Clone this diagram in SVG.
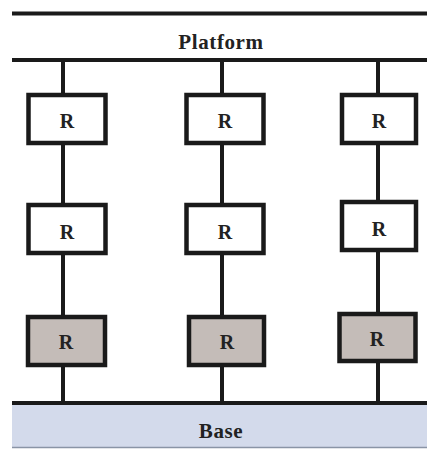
<svg xmlns="http://www.w3.org/2000/svg" width="427" height="449" viewBox="0 0 427 449">
<style>
.ln{stroke:#1a1a1a;stroke-width:4;fill:none}
.bx{stroke:#1a1a1a;stroke-width:4.5;fill:#ffffff}
.g{fill:#c4bcb8}
.t{font-family:"Liberation Serif",serif;font-weight:bold;fill:#222;text-anchor:middle;dominant-baseline:central}
.r{font-size:20px}
.lbl{font-size:21px;letter-spacing:0.6px}
</style>
<rect width="427" height="449" fill="#ffffff"/>
<g id="base">
<rect x="12" y="404" width="415" height="43" fill="#d3daeb"/>
<line x1="12" y1="447.5" x2="427" y2="447.5" stroke="#8a94a6" stroke-width="1.5"/>
<text class="t lbl" x="221" y="431">Base</text>
</g>
<g id="platform">
<line class="ln" x1="12" y1="13.5" x2="427" y2="13.5"/>
<text class="t lbl" x="221" y="42">Platform</text>
</g>
<g id="connectors">
<line class="ln" x1="12" y1="60" x2="427" y2="60"/>
<line class="ln" x1="12" y1="403" x2="427" y2="403"/>
<line class="ln" x1="63" y1="60" x2="63" y2="403"/>
<line class="ln" x1="222" y1="60" x2="222" y2="403"/>
<line class="ln" x1="378" y1="60" x2="378" y2="403"/>
</g>
<g id="r11"><rect class="bx" x="28.5" y="95" width="77" height="48"/><text class="t r" x="67" y="121">R</text></g>
<g id="r12"><rect class="bx" x="186.5" y="95" width="77" height="48"/><text class="t r" x="225" y="121">R</text></g>
<g id="r13"><rect class="bx" x="342" y="95" width="74" height="48"/><text class="t r" x="379" y="121">R</text></g>
<g id="r21"><rect class="bx" x="28.5" y="205" width="77" height="48"/><text class="t r" x="67" y="232">R</text></g>
<g id="r22"><rect class="bx" x="186.5" y="205" width="77" height="48"/><text class="t r" x="225" y="232">R</text></g>
<g id="r23"><rect class="bx" x="342" y="202" width="74" height="48"/><text class="t r" x="379" y="229">R</text></g>
<g id="r31"><rect class="bx g" x="28" y="317" width="77" height="48"/><text class="t r" x="66" y="342">R</text></g>
<g id="r32"><rect class="bx g" x="189" y="317" width="75" height="48"/><text class="t r" x="227" y="342">R</text></g>
<g id="r33"><rect class="bx g" x="339.5" y="314" width="76" height="47"/><text class="t r" x="377" y="339">R</text></g>
</svg>
